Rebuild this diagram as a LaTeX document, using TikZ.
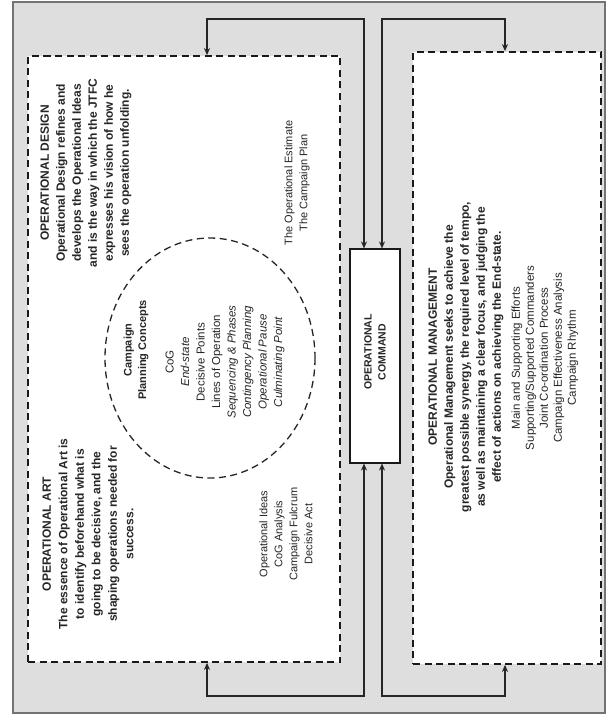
\documentclass[tikz,border=0pt]{standalone}
\usepackage{fontspec}
\setmainfont{Liberation Sans}
\usetikzlibrary{arrows.meta,calc}
\begin{document}
\begin{tikzpicture}[x=1pt,y=-1pt,
  panel/.style={draw=black!90, line width=1.8pt, dash pattern=on 7pt off 4.5pt, fill=white, inner sep=0pt},
  cmdbox/.style={draw=black!90, line width=1.1pt, fill=white, inner sep=0pt},
  conn/.style={draw=black!85, line width=1.1pt, {Stealth[length=7pt,width=6pt]}-{Stealth[length=7pt,width=6pt]}},
  para/.style={rotate=90, align=center, font=\fontsize{12}{16}\selectfont\bfseries, text=black!85, inner sep=0pt},
  list/.style={rotate=90, align=center, font=\fontsize{11}{15}\selectfont, text=black!85, inner sep=0pt},
]
\useasboundingbox (0,0) rectangle (608,717);

% grey frame behind everything
\draw[draw=black!55, line width=1.5pt, fill=black!13] (13,2) rectangle (605,713);

% the three panels
\node[panel, minimum width=312pt, minimum height=606pt] (art) at (184,359) {};
\node[panel, minimum width=188pt, minimum height=612pt] (mgmt) at (507,358) {};
\node[cmdbox, minimum width=50pt, minimum height=214pt] (cmd) at (375,356) {};

% corner points of the connectors
\coordinate (t1) at (207,19);  \coordinate (t2) at (364,19);
\coordinate (t3) at (382,19);  \coordinate (t4) at (505,19);
\coordinate (b1) at (207,696); \coordinate (b2) at (364,696);
\coordinate (b3) at (382,696); \coordinate (b4) at (505,696);

\draw[conn] (art.north -| t1) -- (t1) -- (t2) -- (cmd.north -| t2);
\draw[conn] (cmd.north -| t3) -- (t3) -- (t4) -- (mgmt.north -| t4);
\draw[conn] (art.south -| b1) -- (b1) -- (b2) -- (cmd.south -| b2);
\draw[conn] (cmd.south -| b3) -- (b3) -- (b4) -- (mgmt.south -| b4);

% campaign planning concepts
\draw[black!85, line width=1.3pt, dash pattern=on 7pt off 4.5pt] (210,358) ellipse [x radius=105, y radius=120];

\node[para] (design) at (86,173) {OPERATIONAL DESIGN\\Operational Design refines and\\develops the Operational Ideas\\and is the way in which the JTFC\\expresses his vision of how he\\sees the operation unfolding.};

\node[para, font=\fontsize{12}{16.5}\selectfont\bfseries] (opart) at (88,534) {OPERATIONAL ART\\The essence of Operational Art is\\to identify beforehand what is\\going to be decisive, and the\\shaping operations needed for\\success.};

\node[para, font=\fontsize{11}{14.5}\selectfont\bfseries] (cpchead) at (136,350) {Campaign\\Planning Concepts};

\node[list, font=\fontsize{11.5}{15.5}\selectfont] (cpclist) at (225,362) {CoG\\\textit{End-state}\\Decisive Points\\Lines of Operation\\\textit{Sequencing \& Phases}\\\textit{Contingency Planning}\\\textit{Operational Pause}\\\textit{Culminating Point}};

\node[list] (estimate) at (297,183) {The Operational Estimate\\The Campaign Plan};

\node[list] (ideas) at (286,534) {Operational Ideas\\CoG Analysis\\Campaign Fulcrum\\Decisive Act};

\node[para, font=\fontsize{10.5}{14}\selectfont\bfseries] (cmdtext) at (375,352) {OPERATIONAL\\COMMAND};

\node[para] (mgmttext) at (466,357) {OPERATIONAL MANAGEMENT\\Operational Management seeks to achieve the\\greatest possible synergy, the required level of tempo,\\as well as maintaining a clear focus, and judging the\\effect of actions on achieving the End-state.};

\node[list, font=\fontsize{11.5}{14}\selectfont] (mgmtlist) at (545,358) {Main and Supporting Efforts\\Supporting/Supported Commanders\\Joint Co-ordination Process\\Campaign Effectiveness Analysis\\Campaign Rhythm};

\end{tikzpicture}
\end{document}
